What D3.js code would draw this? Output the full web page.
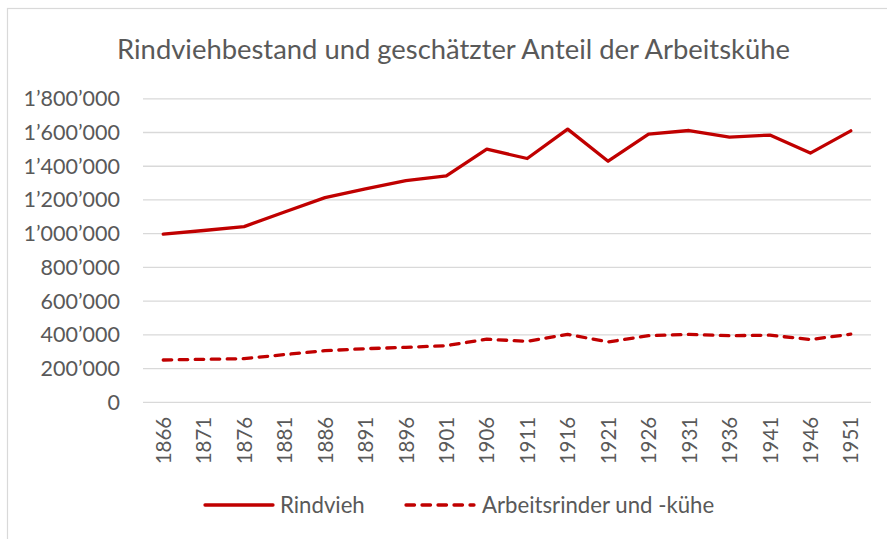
<!DOCTYPE html>
<html><head><meta charset="utf-8">
<script src="https://cdn.jsdelivr.net/npm/d3@7"></script>
<style>
html,body{margin:0;padding:0;background:#fff;}
svg{display:block;font-family:Lato,"Open Sans",sans-serif;}
</style></head>
<body>
<svg id="c" width="887" height="539"></svg>
<script>
const years = ["1866","1871","1876","1881","1886","1891","1896","1901","1906","1911","1916","1921","1926","1931","1936","1941","1946","1951"];
const rindvieh = [994000,1016000,1039000,1126000,1211000,1263000,1312000,1340000,1498000,1443000,1617000,1427000,1588000,1609000,1570000,1582000,1475000,1607000];
const arbeitsrinder = [248000,252000,256000,280000,303000,315000,323000,333000,371000,359000,400000,355000,392000,400000,392000,395000,369000,401000];
const yTicks = [0,200000,400000,600000,800000,1000000,1200000,1400000,1600000,1800000];
const seriesNames = ["Rindvieh","Arbeitsrinder und -kühe"];
const title = "Rindviehbestand und geschätzter Anteil der Arbeitskühe";

const svg = d3.select("#c");
const textCol = "#595959", gridCol = "#d9d9d9", lineCol = "#c00000";
const loc = d3.formatLocale({decimal:".", thousands:"\u2019", grouping:[3], currency:["",""]});
const fmt = loc.format(",");

svg.append("rect").attr("x",7.5).attr("y",8.5).attr("width",900).attr("height",560)
  .attr("fill","#fff").attr("stroke",gridCol).attr("stroke-width",1.2);

const x = d3.scalePoint().domain(years).range([143,871]).padding(0.5);
const y = d3.scaleLinear().domain([0,1800000]).range([401.8,98.3]);

svg.append("text").attr("x",453.5).attr("y",59).attr("text-anchor","middle")
  .attr("fill",textCol).style("font-size","27.4px").text(title);

// grid
const yAxis = d3.axisLeft(y).tickValues(yTicks).tickFormat(d=>fmt(d)).tickSize(-(871-143)).tickPadding(23);
const gy = svg.append("g").attr("transform","translate(143,0)").call(yAxis);
gy.select(".domain").remove();
gy.selectAll(".tick line").attr("stroke",gridCol).attr("stroke-width",1.3);
gy.selectAll(".tick text").attr("fill",textCol).style("font-size","21.5px").attr("font-family","Lato").attr("dy","0.35em");

const xAxis = d3.axisBottom(x).tickSize(0).tickPadding(0);
const gx = svg.append("g").attr("transform","translate(0,401.8)").call(xAxis);
gx.select(".domain").remove();
gx.selectAll(".tick text").attr("fill",textCol).style("font-size","20.5px").attr("font-family","Lato")
  .attr("text-anchor","end").attr("transform","rotate(-90)").attr("x",-15).attr("y",0).attr("dy","0.35em");

const line = d3.line().x((d,i)=>x(years[i])).y(d=>y(d));
svg.append("path").datum(rindvieh).attr("d",line).attr("fill","none").attr("stroke",lineCol)
  .attr("stroke-width",3.3).attr("stroke-linejoin","round").attr("stroke-linecap","round");
svg.append("path").datum(arbeitsrinder).attr("d",line).attr("fill","none").attr("stroke",lineCol)
  .attr("stroke-width",3.3).attr("stroke-linejoin","round").attr("stroke-linecap","round").attr("stroke-dasharray","8.5,7.5");

// legend
const lg = svg.append("g");
const items = [{x1:205,x2:273,tx:280,dash:null},{x1:406,x2:474,tx:482,dash:"8.5,7.5"}];
items.forEach((it,i)=>{
  lg.append("line").attr("x1",it.x1).attr("x2",it.x2).attr("y1",505).attr("y2",505)
    .attr("stroke",lineCol).attr("stroke-width",3.3).attr("stroke-linecap","round")
    .attr("stroke-dasharray",it.dash);
  lg.append("text").attr("x",it.tx).attr("y",505).attr("dy","0.35em").attr("fill",textCol)
    .style("font-size","22.2px").text(seriesNames[i]);
});
</script>
</body></html>
